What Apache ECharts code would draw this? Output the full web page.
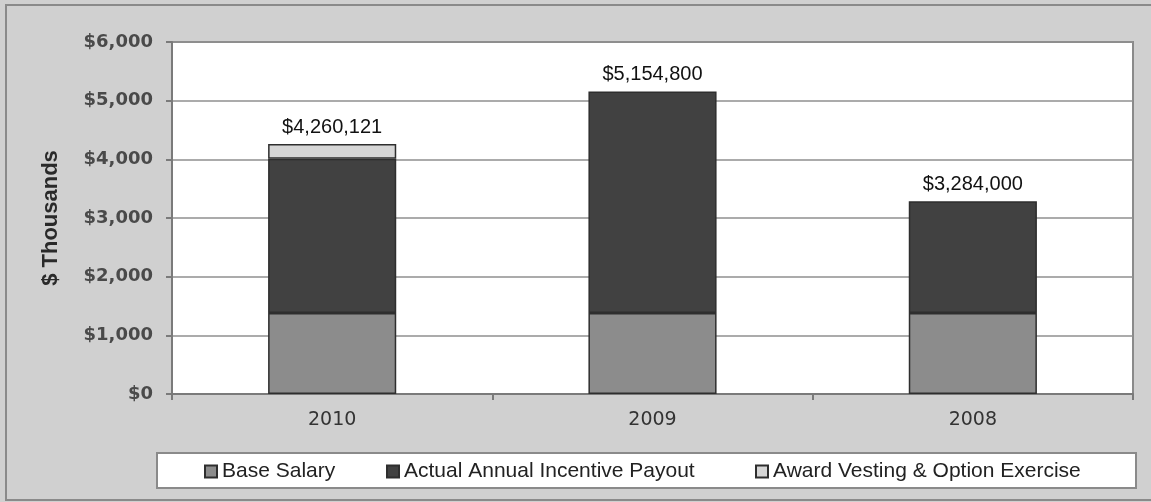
<!DOCTYPE html>
<html>
<head>
<meta charset="utf-8">
<script src="https://cdn.jsdelivr.net/npm/echarts@6/dist/echarts.min.js"></script>
<style>
  html, body { margin: 0; padding: 0; background: #d0d0d0; }
  #chart { width: 1151px; height: 502px; }
</style>
</head>
<body>
<div id="chart"></div>
<script>
// Compensation by year, in $ thousands
const categories = ['2010', '2009', '2008'];
const baseSalary = [1380, 1380, 1380];
const annualIncentive = [2630, 3774.8, 1904];
const awardVesting = [250.121, 0, 0];
const yTicks = { min: 0, max: 6000, interval: 1000 };
const seriesNames = ['Base Salary', 'Actual Annual Incentive Payout', 'Award Vesting & Option Exercise'];

const totals = categories.map((_, i) => baseSalary[i] + annualIncentive[i] + awardVesting[i]);
const fmtDollars = v => '$' + Math.round(v).toLocaleString('en-US');

const chart = echarts.init(document.getElementById('chart'), null, { renderer: 'canvas' });

const barBorder = { borderColor: '#2e2e2e', borderWidth: 1.5 };

function legendAt(left, name) {
  return {
    left: left, top: 461, padding: 0,
    itemWidth: 12, itemHeight: 12, itemGap: 5,
    icon: 'rect',
    data: [name],
    selectedMode: false,
    textStyle: { fontFamily: 'Liberation Sans', fontSize: 21, color: '#222' }
  };
}

chart.setOption({
  animation: false,
  backgroundColor: '#d0d0d0',
  graphic: [
    { type: 'rect', silent: true, z: -10,
      shape: { x: 6, y: 5, width: 1150, height: 495 },
      style: { fill: 'none', stroke: '#8a8a8a', lineWidth: 2 } },
    { type: 'rect', silent: true, z: -10,
      shape: { x: 157, y: 453, width: 979, height: 35 },
      style: { fill: '#ffffff', stroke: '#8a8a8a', lineWidth: 2 } }
  ],
  grid: {
    left: 172, right: 18, top: 42, bottom: 108,
    show: true, backgroundColor: '#ffffff', borderColor: '#8a8a8a', borderWidth: 2,
    containLabel: false, outerBoundsMode: 'none'
  },
  legend: [
    legendAt(204, seriesNames[0]),
    legendAt(386, seriesNames[1]),
    legendAt(755, seriesNames[2])
  ],
  xAxis: {
    type: 'category',
    data: categories,
    axisLine: { lineStyle: { color: '#7a7a7a', width: 2 } },
    axisTick: { show: true, length: 6, lineStyle: { color: '#7a7a7a', width: 2 } },
    axisLabel: { margin: 17, fontFamily: 'DejaVu Sans', fontSize: 19, color: '#333' }
  },
  yAxis: {
    type: 'value',
    min: yTicks.min, max: yTicks.max, interval: yTicks.interval,
    name: '$ Thousands',
    nameLocation: 'middle',
    nameRotate: 90,
    nameGap: 110,
    nameTextStyle: { fontFamily: 'Liberation Sans', fontWeight: 'bold', fontSize: 22, color: '#2a2a2a' },
    axisLine: { show: true, lineStyle: { color: '#7a7a7a', width: 2 } },
    axisTick: { show: true, length: 6, lineStyle: { color: '#7a7a7a', width: 2 } },
    splitLine: { lineStyle: { color: '#8f8f8f', width: 1.5 } },
    axisLabel: {
      margin: 19, fontFamily: 'DejaVu Sans', fontWeight: 'bold', fontSize: 18, color: '#4a4a4a',
      formatter: v => '$' + v.toLocaleString('en-US')
    }
  },
  series: [
    {
      name: seriesNames[0], type: 'bar', stack: 'pay', barWidth: '40%',
      data: baseSalary,
      itemStyle: Object.assign({ color: '#8c8c8c' }, barBorder)
    },
    {
      name: seriesNames[1], type: 'bar', stack: 'pay', barWidth: '40%',
      data: annualIncentive,
      itemStyle: Object.assign({ color: '#414141' }, barBorder)
    },
    {
      name: seriesNames[2], type: 'bar', stack: 'pay', barWidth: '40%',
      data: awardVesting.map(v => v > 0 ? v : { value: v, itemStyle: { borderWidth: 0 } }),
      itemStyle: Object.assign({ color: '#d6d6d6' }, barBorder),
      label: {
        show: true, position: 'top', distance: 7,
        fontFamily: 'Liberation Sans', fontSize: 20, color: '#111',
        formatter: p => fmtDollars(totals[p.dataIndex] * 1000)
      }
    }
  ]
});
</script>
</body>
</html>
